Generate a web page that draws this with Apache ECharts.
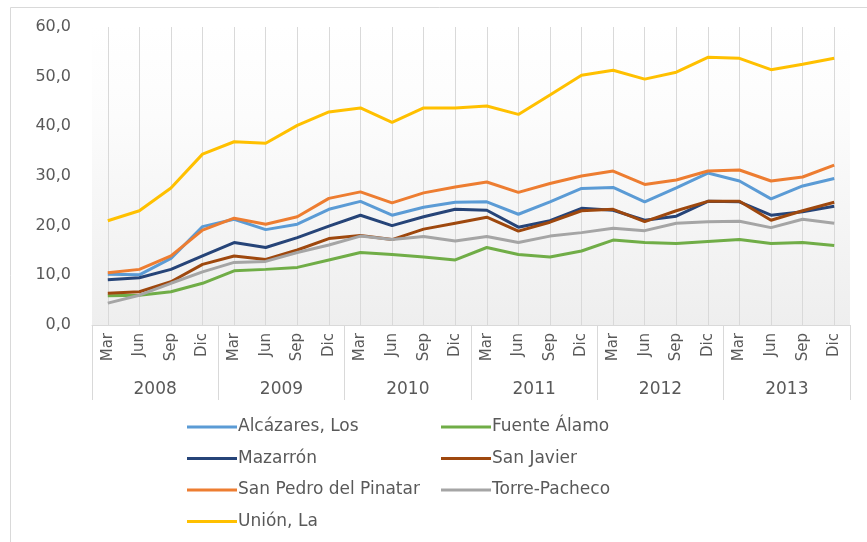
<!DOCTYPE html>
<html>
<head>
<meta charset="utf-8">
<script src="https://cdn.jsdelivr.net/npm/echarts@6/dist/echarts.min.js"></script>
<style>
  html, body { margin: 0; padding: 0; background: #fff; }
  #chart { width: 867px; height: 542px; }
</style>
</head>
<body>
<div id="chart"></div>
<script>
// categories
const months = ['Mar', 'Jun', 'Sep', 'Dic'];
const years = ['2008', '2009', '2010', '2011', '2012', '2013'];
const periods = [];
years.forEach(function () { months.forEach(function (m) { periods.push(m); }); });

// series values
const alcazares = [10.2, 10.1, 13.4, 19.8, 21.3, 19.2, 20.3, 23.3, 24.9, 22.1, 23.7, 24.7,
    24.8, 22.3, 24.8, 27.5, 27.7, 24.8, 27.6, 30.6, 29.0, 25.4, 28.0, 29.5];
const fuenteAlamo = [5.9, 6.0, 6.7, 8.4, 10.9, 11.2, 11.6, 13.1, 14.6, 14.2, 13.7, 13.1,
    15.6, 14.2, 13.7, 14.9, 17.1, 16.6, 16.4, 16.8, 17.2, 16.4, 16.6, 16.0];
const mazarron = [9.1, 9.5, 11.2, 13.9, 16.6, 15.6, 17.6, 19.9, 22.1, 20.0, 21.8, 23.3,
    23.1, 19.7, 21.0, 23.5, 23.1, 21.1, 21.9, 24.9, 24.8, 22.1, 22.8, 23.9];
const sanJavier = [6.4, 6.7, 8.7, 12.2, 13.9, 13.2, 15.1, 17.4, 18.0, 17.2, 19.3, 20.5,
    21.7, 18.9, 20.7, 23.0, 23.3, 20.8, 23.0, 24.9, 24.9, 21.1, 23.0, 24.7];
const sanPedro = [10.5, 11.2, 13.9, 19.1, 21.5, 20.3, 21.8, 25.5, 26.8, 24.6, 26.6, 27.8,
    28.8, 26.7, 28.5, 30.0, 31.0, 28.3, 29.2, 31.0, 31.2, 29.0, 29.8, 32.2];
const torrePacheco = [4.4, 6.0, 8.4, 10.7, 12.6, 12.8, 14.6, 16.1, 17.9, 17.2, 17.8, 16.9,
    17.8, 16.6, 17.9, 18.6, 19.5, 19.0, 20.5, 20.8, 20.9, 19.6, 21.3, 20.5];
const union = [21.0, 23.0, 27.6, 34.4, 36.9, 36.6, 40.2, 42.9, 43.7, 40.8, 43.7, 43.7,
    44.1, 42.4, 46.3, 50.3, 51.3, 49.5, 50.9, 53.9, 53.7, 51.4, 52.5, 53.7];

const names = ['Alcázares, Los', 'Fuente Álamo', 'Mazarrón', 'San Javier',
    'San Pedro del Pinatar', 'Torre-Pacheco', 'Unión, La'];
const values = [alcazares, fuenteAlamo, mazarron, sanJavier, sanPedro, torrePacheco, union];
const colors = ['#5B9BD5', '#70AD47', '#264478', '#9E480E', '#ED7D31', '#A5A5A5', '#FFC000'];

const font = 'DejaVu Sans';
const textGray = '#595959';
const lineGray = '#d9d9d9';

let chart = echarts.init(document.getElementById('chart'));

let series = names.map(function (n, i) {
    return {
        name: n,
        type: 'line',
        data: values[i],
        symbol: 'none',
        smooth: false,
        lineStyle: { width: 3, color: colors[i] },
        itemStyle: { color: colors[i] },
        animation: false
    };
});

function legendBox(left, data) {
    return {
        orient: 'vertical',
        left: left,
        top: 412,
        icon: 'rect',
        itemWidth: 50,
        itemHeight: 3,
        itemGap: 11.5,
        data: data,
        selectedMode: false,
        textStyle: { fontFamily: font, fontSize: 17, color: textGray, lineHeight: 20, padding: [0, 0, 0, -4] }
    };
}

let option = {
    animation: false,
    grid: {
        left: 92,
        right: 17,
        top: 27,
        bottom: 217,
        show: true,
        borderWidth: 0,
        backgroundColor: new echarts.graphic.LinearGradient(0, 0, 0, 1, [
            { offset: 0, color: '#ffffff' },
            { offset: 0.3, color: '#fcfcfc' },
            { offset: 1, color: '#eeeeee' }
        ])
    },
    xAxis: [{
        type: 'category',
        data: periods,
        boundaryGap: true,
        axisLine: { show: true, lineStyle: { color: lineGray, width: 1 } },
        axisTick: { show: true, alignWithLabel: true, inside: true, length: 298, interval: 0,
            lineStyle: { color: lineGray, width: 1 } },
        axisLabel: { rotate: 90, interval: 0, margin: 8, fontFamily: font, fontSize: 15, color: textGray },
        splitLine: { show: false }
    }, {
        type: 'category',
        data: years,
        position: 'bottom',
        boundaryGap: true,
        axisLine: { show: false },
        axisTick: { show: true, length: 75, interval: 0, lineStyle: { color: lineGray, width: 1 } },
        axisLabel: { interval: 0, margin: 56, fontFamily: font, fontSize: 17, color: textGray },
        splitLine: { show: false }
    }],
    yAxis: {
        type: 'value',
        min: 0,
        max: 60,
        interval: 10,
        axisLine: { show: false },
        axisTick: { show: false },
        splitLine: { show: false },
        axisLabel: {
            margin: 21,
            fontFamily: font,
            fontSize: 16,
            color: textGray,
            formatter: function (v) { return v.toFixed(1).replace('.', ','); }
        }
    },
    legend: [
        legendBox(182, [names[0], names[2], names[4], names[6]]),
        legendBox(436, [names[1], names[3], names[5]])
    ],
    graphic: [{
        type: 'rect',
        shape: { x: 10.5, y: 7.5, width: 900, height: 600 },
        style: { fill: 'none', stroke: lineGray, lineWidth: 1 },
        silent: true,
        z: -10
    }],
    series: series
};

chart.setOption(option);
</script>
</body>
</html>
